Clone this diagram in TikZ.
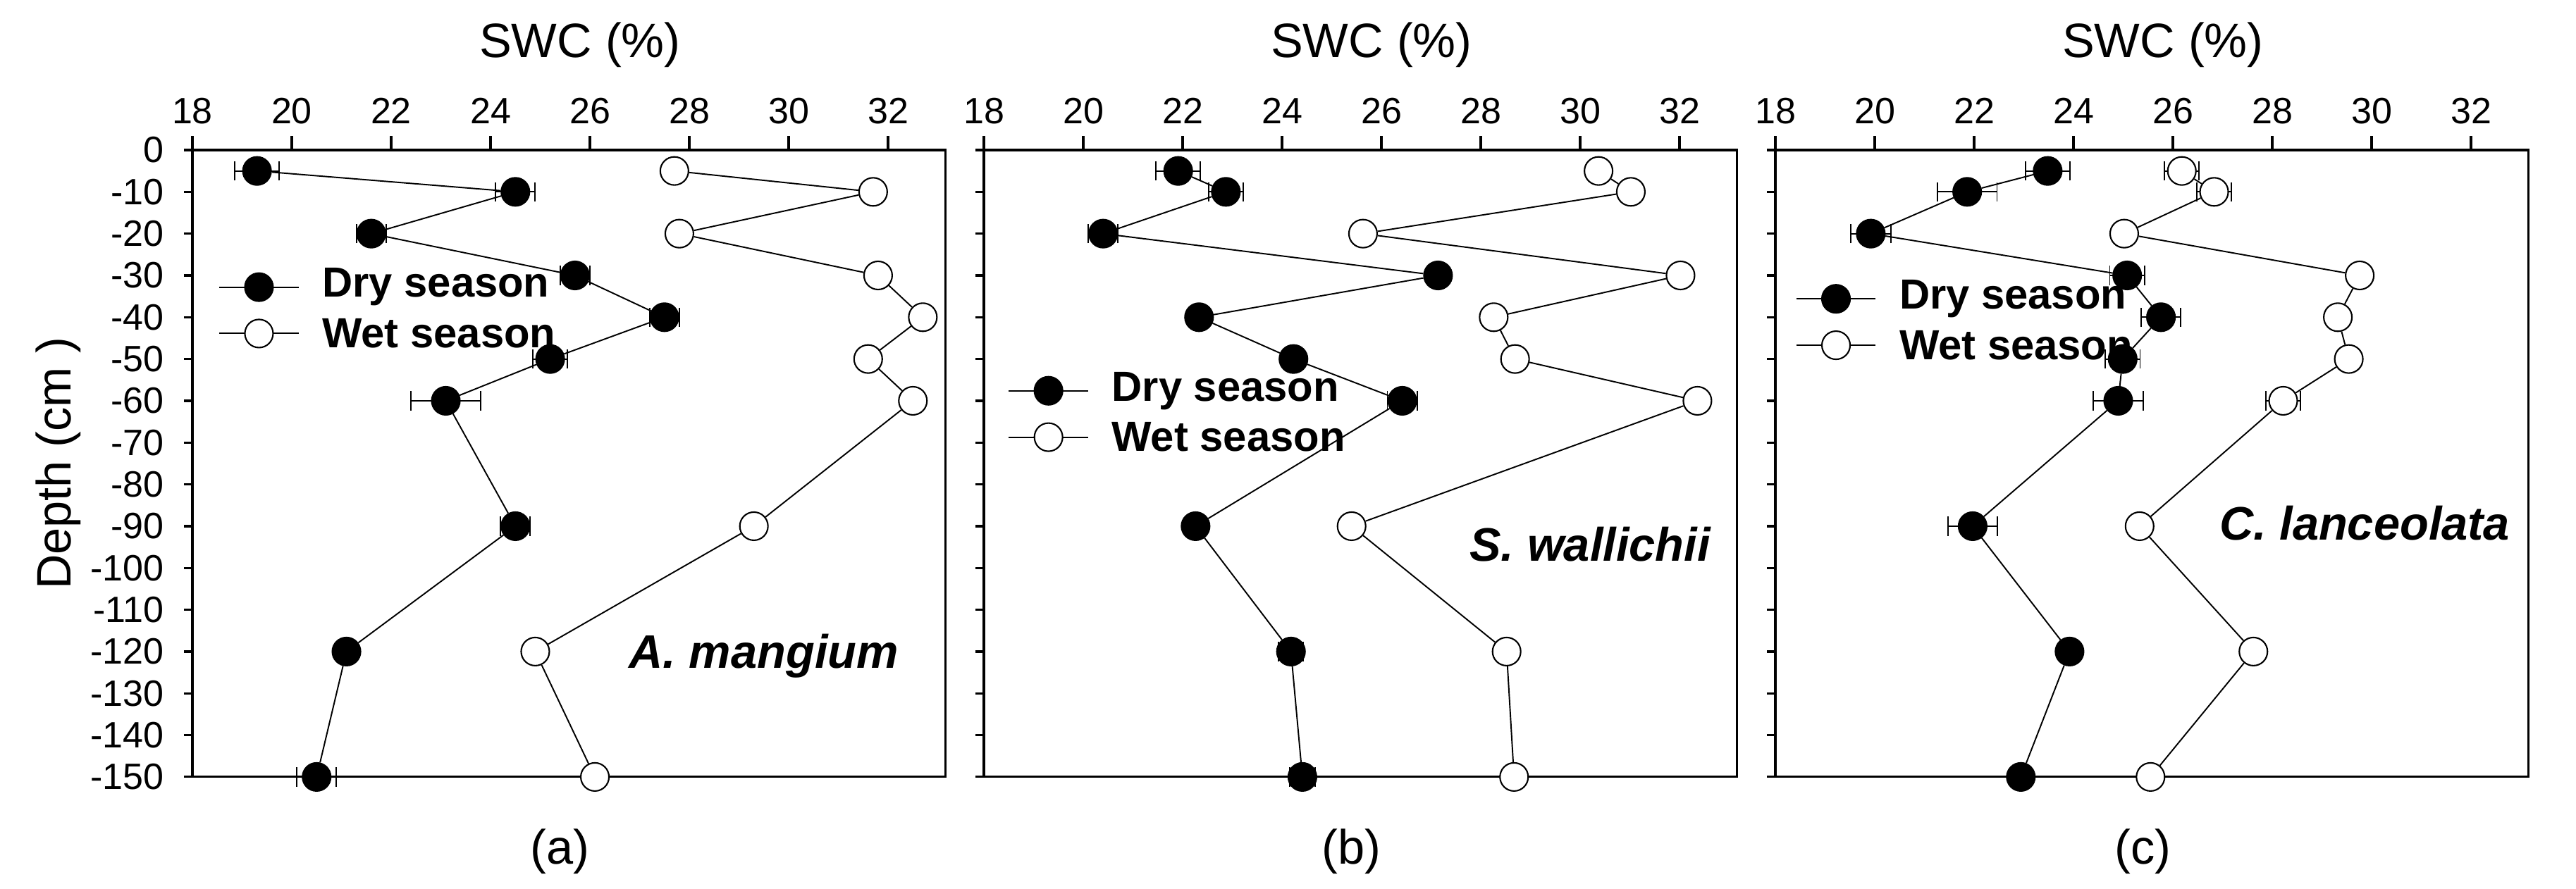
\documentclass[tikz,border=0pt]{standalone}
\usepackage{fontspec}
\setmainfont{Liberation Sans}
\usetikzlibrary{positioning}

\tikzset{
  dry/.style = {draw, circle, fill=black, line width=0.6pt, minimum size=0.4cm, inner sep=0pt},
  wet/.style = {draw, circle, fill=white, line width=0.6pt, minimum size=0.4cm, inner sep=0pt},
  link/.style = {line width=0.55pt},
  errbar/.style = {line width=0.55pt},
  frame/.style = {line width=0.9pt},
  tick/.style = {font=\fontsize{14.8}{16}\selectfont},
  big/.style = {font=\fontsize{19.5}{21}\selectfont},
  legend/.style = {font=\bfseries\fontsize{17}{19}\selectfont, anchor=west},
  species/.style = {font=\bfseries\itshape\fontsize{19}{21}\selectfont}
}

% depth/value/error
\def\adry{-5/19.3/0.45,-10/24.5/0.4,-20/21.6/0.3,-30/25.7/0.3,-40/27.5/0.3,-50/25.2/0.35,-60/23.1/0.7,-90/24.5/0.3,-120/21.1/0.2,-150/20.5/0.4}
\def\awet{-5/27.7/0,-10/31.7/0,-20/27.8/0,-30/31.8/0,-40/32.7/0,-50/31.6/0,-60/32.5/0,-90/29.3/0,-120/24.9/0,-150/26.1/0}
\def\bdry{-5/21.91/0.45,-10/22.87/0.35,-20/20.4/0.3,-30/27.14/0.2,-40/22.33/0.2,-50/24.23/0,-60/26.42/0.3,-90/22.26/0,-120/24.18/0.25,-150/24.41/0.25}
\def\bwet{-5/30.37/0,-10/31.02/0,-20/25.63/0,-30/32.02/0,-40/28.26/0,-50/28.69/0,-60/32.36/0,-90/25.4/0,-120/28.52/0,-150/28.67/0}
\def\cdry{-5/23.48/0.45,-10/21.86/0.6,-20/19.92/0.4,-30/25.08/0.35,-40/25.76/0.4,-50/24.99/0.35,-60/24.9/0.5,-90/21.97/0.5,-120/23.92/0,-150/22.94/0}
\def\cwet{-5/26.18/0.35,-10/26.83/0.35,-20/25.02/0,-30/29.76/0,-40/29.32/0,-50/29.54/0,-60/28.22/0.35,-90/25.33/0.1,-120/27.62/0,-150/25.55/0}

\begin{document}
\begin{tikzpicture}
\useasboundingbox (0,0) rectangle (36.55,-12.61);

% axis title on the left
\node (depth) [big, rotate=90] at (0.83,-6.58) {Depth (cm )};

\foreach \p/\px/\lab/\name/\nx/\ny/\lx/\ly in {
  a/2.73/(a)/A. mangium/29.5/-121/19.34/-32.8,
  b/13.96/(b)/S. wallichii/30.2/-94.3/19.3/-57.6,
  c/25.19/(c)/C. lanceolata/29.86/-89.3/19.22/-35.6
}{
\expandafter\let\expandafter\drylist\csname\p dry\endcsname
\expandafter\let\expandafter\wetlist\csname\p wet\endcsname
\begin{scope}[xshift=\px cm, yshift=-2.13cm, x=0.705cm, y=0.05933cm, shift={(-18,0)}]
  % frame and ticks
  \draw [frame] (18,0) rectangle (33.16,-150);
  \foreach \t in {18,20,...,32} {
    \draw [frame] (\t,0) -- (\t,3.4);
    \node [tick] at (\t,9.3) {\t};
  }
  \foreach \d in {0,-10,...,-150} \draw [frame] (18,\d) -- ++(-0.17,0);
  \node [big] (title-\p) at (25.8,25.2) {SWC (\%)};
  \node [big] (label-\p) at (25.4,-152) [below=0.5cm] {\lab};
  \node [species] (name-\p) at (\nx,\ny) {\name};

  % error bars
  \foreach \d/\v/\e in \drylist {
    \draw [errbar] (\v-\e,\d) -- (\v+\e,\d) (\v-\e,\d-2.3) -- (\v-\e,\d+2.3) (\v+\e,\d-2.3) -- (\v+\e,\d+2.3);
  }
  \foreach \d/\v/\e in \wetlist {
    \draw [errbar] (\v-\e,\d) -- (\v+\e,\d) (\v-\e,\d-2.3) -- (\v-\e,\d+2.3) (\v+\e,\d-2.3) -- (\v+\e,\d+2.3);
  }

  % markers and connectors
  \foreach \d/\v/\e [count=\i, remember=\i as \j (initially 0)] in \drylist {
    \node (\p-d\i) [dry] at (\v,\d) {};
    \ifnum\i>1 \draw [link] (\p-d\j) -- (\p-d\i); \fi
  }
  \foreach \d/\v/\e [count=\i, remember=\i as \j (initially 0)] in \wetlist {
    \node (\p-w\i) [wet] at (\v,\d) {};
    \ifnum\i>1 \draw [link] (\p-w\j) -- (\p-w\i); \fi
  }

  % legend
  \coordinate (\p-dl) at (\lx-0.8,\ly);
  \coordinate (\p-dr) at (\lx+0.8,\ly);
  \coordinate (\p-wl) at (\lx-0.8,\ly-11.1);
  \coordinate (\p-wr) at (\lx+0.8,\ly-11.1);
  \draw [link] (\p-dl) -- (\p-dr);
  \draw [link] (\p-wl) -- (\p-wr);
  \node (\p-dm) [dry] at (\lx,\ly) {};
  \node (\p-wm) [wet] at (\lx,\ly-11.1) {};
  \node [legend] at (\lx+1.1,\ly) {Dry season};
  \node [legend] at (\lx+1.1,\ly-11.1) {Wet season};
\end{scope}
}

% depth tick labels
\begin{scope}[yshift=-2.13cm, y=0.05933cm]
  \foreach \d in {0,-10,...,-150} \node [tick, anchor=east] at (2.45,\d) {\d};
\end{scope}

\end{tikzpicture}
\end{document}
